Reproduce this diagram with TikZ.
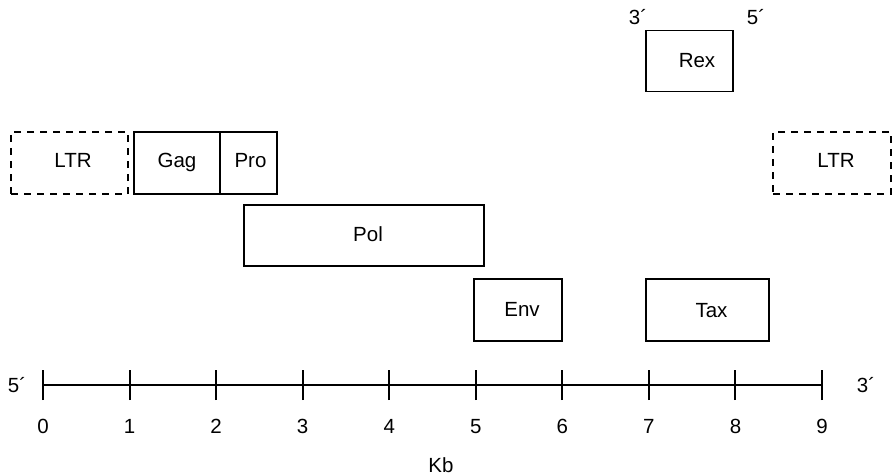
\documentclass[tikz,border=0pt]{standalone}
\usepackage{fontspec}
\setmainfont{Liberation Sans}
\begin{document}
\begin{tikzpicture}[x=1pt,y=-1pt,
  txt/.style={font=\fontsize{20.5}{24}\selectfont, inner sep=0pt, anchor=base},
  gene/.style={draw, line width=1.9pt, rectangle, inner sep=0pt, outer sep=0pt},
  ltrbox/.style={gene, dash pattern=on 7pt off 6pt},
  axisline/.style={line width=2pt},
  ticklbl/.style={txt}]
\useasboundingbox (0,0) rectangle (894,476);
% gene boxes
\node[ltrbox, minimum width=117pt, minimum height=62pt] (ltrL) at (69.5,163) {};
\node[txt] (ltrLt) at (73,167.5) {LTR};
\node[gene, minimum width=86pt, minimum height=62pt] (gag) at (177,163) {};
\node[txt] (gagt) at (177,167.5) {Gag};
\node[gene, minimum width=57pt, minimum height=62pt] (pro) at (248.5,163) {};
\node[txt] (prot) at (250.5,167.5) {Pro};
\node[ltrbox, minimum width=118pt, minimum height=62pt] (ltrR) at (832,163) {};
\node[txt] (ltrRt) at (836,167.5) {LTR};
\node[gene, minimum width=240pt, minimum height=61pt] (pol) at (364,235.5) {};
\node[txt] (polt) at (368,241) {Pol};
\node[gene, minimum width=88pt, minimum height=62pt] (env) at (518,310) {};
\node[txt] (envt) at (522,316) {Env};
\node[gene, minimum width=123pt, minimum height=62pt] (tax) at (707.5,310) {};
\node[txt] (taxt) at (711.5,317) {Tax};
\node[gene, minimum width=87pt, minimum height=61pt] (rex) at (689.5,61) {};
\node[txt] (rext) at (697,68) {Rex};
\node[txt] (rex3) at (638,25) {3´};
\node[txt] (rex5) at (756,25) {5´};
% axis
\coordinate (a0) at (43,385);
\coordinate (a9) at (822,385);
\draw[axisline] (a0) -- (a9);
\foreach \k in {0,...,9} {
  \coordinate (t\k) at ({43+86.56*\k},385);
  \draw[axisline] ([yshift=-15pt]t\k) -- ([yshift=15pt]t\k);
  \node[ticklbl] (n\k) at ({43+86.56*\k},433) {\k};
}
\node[txt] (end5) at (17,392) {5´};
\node[txt] (end3) at (866,392) {3´};
\node[txt] (kb) at (441,472) {Kb};
\end{tikzpicture}
\end{document}
